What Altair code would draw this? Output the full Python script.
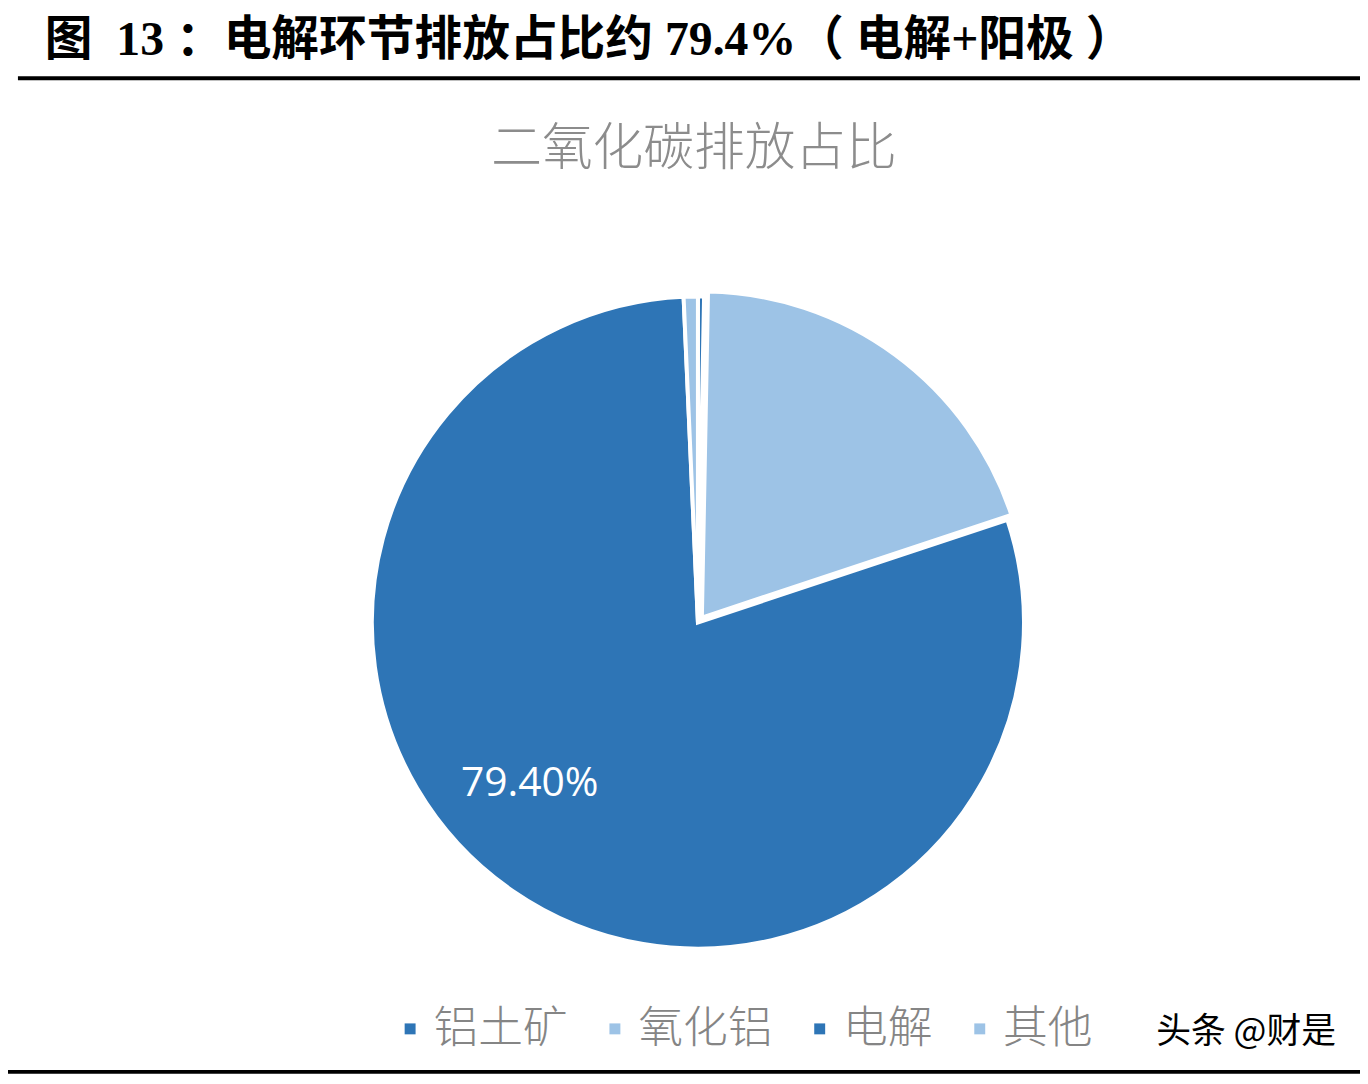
import altair as alt
import pandas as pd

categories = ["铝土矿", "氧化铝", "电解", "其他"]
values = [0.3, 19.6, 79.4, 0.7]
labels = ["", "", "79.40%", ""]
colors = ["#2E75B6", "#9DC3E6", "#2E75B6", "#9DC3E6"]

header = "图\u00a0 13\u00a0：电解环节排放占比约 79.4%（\u00a0电解+阳极\u00a0）"
chart_title = "二氧化碳排放占比"
watermark = "头条 @财是"

df = pd.DataFrame({"cat": categories, "value": values, "label": labels, "idx": list(range(len(categories)))})

CX, CY, R = 694, 615, 328

base = alt.Chart(df).transform_window(
    cum="sum(value)", sort=[alt.SortField("idx")], frame=[None, 0]
).transform_calculate(
    start="datum.cum - datum.value", mid="datum.cum - datum.value/2"
)

color_enc = alt.Color(
    "cat:N",
    scale=alt.Scale(domain=categories, range=colors),
    sort=categories,
    legend=alt.Legend(
        title=None, orient="none", direction="horizontal",
        legendX=382, legendY=1001,
        symbolType="square", symbolSize=121, symbolStrokeWidth=0,
        labelFont="Noto Sans CJK SC", labelFontSize=45, labelFontWeight=300,
        labelColor="#858585", labelOffset=1, columnPadding=24, labelLimit=400,
    ),
)

arcs = base.transform_filter("datum.cat != '氧化铝'").mark_arc(
    outerRadius=R, stroke="white", strokeWidth=4
).encode(
    theta=alt.Theta("start:Q", scale=alt.Scale(domain=[0, 100])),
    theta2="cum:Q",
    color=color_enc,
    x=alt.value(CX), y=alt.value(CY),
)

arc_exp = base.transform_filter("datum.cat == '氧化铝'").mark_arc(
    outerRadius=R, stroke="white", strokeWidth=4
).encode(
    theta=alt.Theta("start:Q"),
    theta2="cum:Q",
    color=alt.Color("cat:N", legend=None),
    x=alt.value(CX + 4), y=alt.value(CY - 5),
)

pct = base.mark_text(
    radius=233, font="Open Sans", fontSize=41, color="white", dx=-37, dy=-29
).encode(
    theta=alt.Theta("mid:Q"),
    text="label:N",
    x=alt.value(CX), y=alt.value(CY),
)

one = pd.DataFrame({"t": [0]})

hdr = alt.Chart(pd.DataFrame({"t": [header]})).mark_text(
    font="Liberation Serif, Noto Sans CJK SC", fontSize=48, fontWeight="bold",
    color="black", align="left", baseline="middle"
).encode(text="t:N", x=alt.value(37), y=alt.value(30))

ttl = alt.Chart(pd.DataFrame({"t": [chart_title]})).mark_text(
    font="Noto Sans CJK SC", fontSize=51, fontWeight=300,
    color="#8c8c8c", align="center", baseline="middle"
).encode(text="t:N", x=alt.value(690), y=alt.value(140))

wm = alt.Chart(pd.DataFrame({"t": [watermark]})).mark_text(
    font="Noto Sans CJK SC", fontSize=35, color="black", align="left", baseline="middle"
).encode(text="t:N", x=alt.value(1155), y=alt.value(1027))

rule_top = alt.Chart(one).mark_rule(color="black", strokeWidth=4).encode(
    x=alt.value(10), x2=alt.value(1360), y=alt.value(67.5)
)
rule_bot = alt.Chart(one).mark_rule(color="black", strokeWidth=4).encode(
    x=alt.value(0), x2=alt.value(1360), y=alt.value(1067)
)

chart = alt.layer(arcs, arc_exp, pct, hdr, ttl, wm, rule_top, rule_bot).properties(
    width=1360, height=1070, padding=0, autosize=alt.AutoSizeParams(type="none")
).configure_view(stroke=None)

chart.save("out.html", embed_options={"renderer": "svg", "actions": False})
